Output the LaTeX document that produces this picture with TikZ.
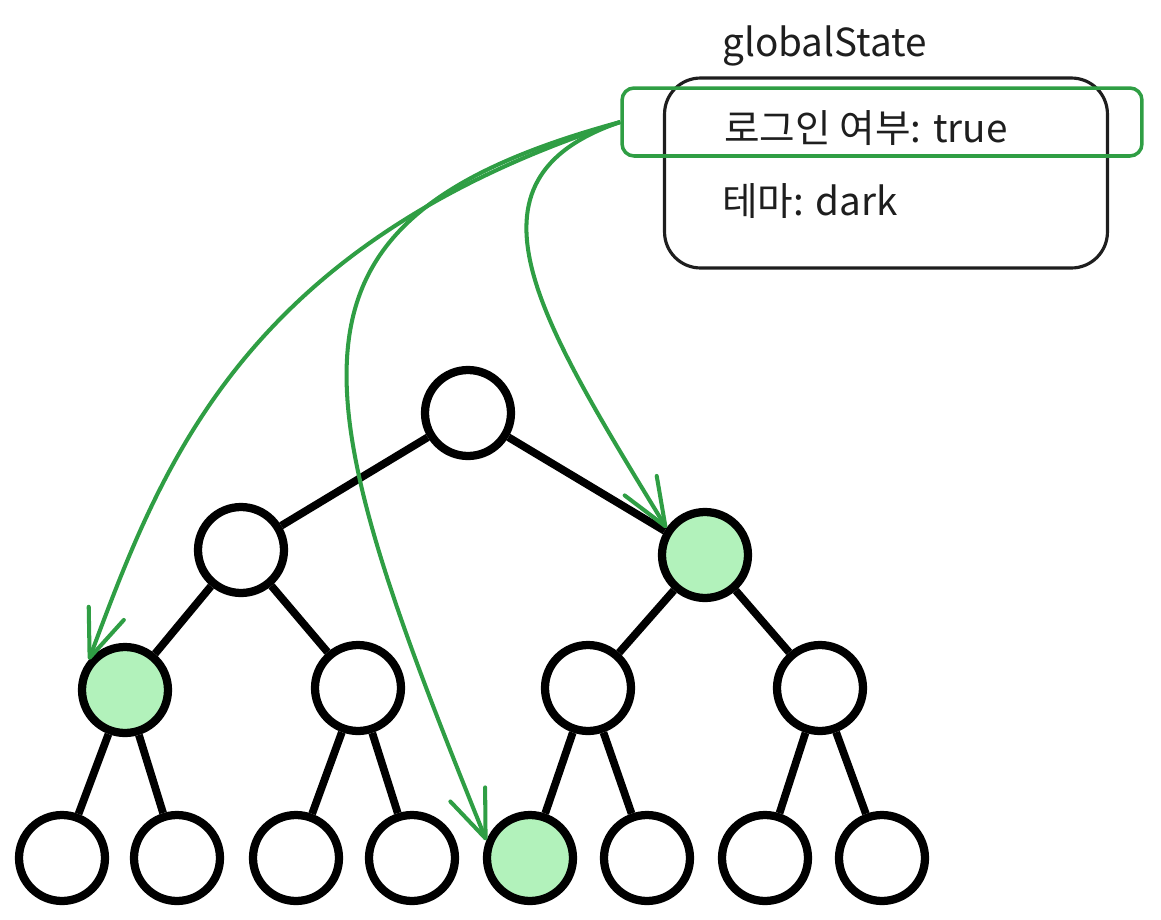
\documentclass[tikz,border=0pt]{standalone}
\usepackage{fontspec}
\usepackage{xcolor}
\usepackage{tikz}
\usetikzlibrary{arrows.meta}
\newfontfamily\kofont{Noto Sans CJK KR}
\definecolor{inkBlack}{HTML}{1E1E1E}
\definecolor{stateGreen}{HTML}{2F9E44}
\definecolor{readFill}{HTML}{B2F2BB}

\begin{document}
\begin{tikzpicture}[
  x=0.02cm, y=-0.02cm,
  font=\kofont\fontsize{22}{26}\selectfont,
  vtx/.style={circle, draw=black, fill=white, line width=0.165cm, minimum size=1.72cm, inner sep=0pt},
  reader/.style={vtx, fill=readFill},
  link/.style={line width=0.155cm, draw=black},
  statebox/.style={draw=inkBlack, rounded corners=0.72cm, line width=1.8pt, minimum width=8.86cm, minimum height=3.8cm},
  pick/.style={draw=stateGreen, rounded corners=0.24cm, line width=2pt, minimum width=10.4cm, minimum height=1.36cm},
  entry/.style={anchor=base west, text=inkBlack, inner sep=0pt},
  sub/.style={-{Straight Barb[length=0.95cm, width=0.75cm, round]}, line width=2.3pt, draw=stateGreen}
]
\useasboundingbox (0,0) rectangle (1161,920);

% ---------- GLOBAL STATE ----------
\node[entry] (title) at (722,56) {globalState};
\node[statebox] (store) at (886,173) {};
\node[pick] (login) at (882,122) {};
\node[entry] (loginTxt) at (724,142) {로그인 여부: true};
\node[entry] (themeTxt) at (722,215) {테마: dark};

% ---------- TREE ----------
\node[vtx] (root) at (468,413) {};
\node[vtx] (a) at (241,550) {};
\node[reader] (b) at (705,555) {};
\node[reader] (aa) at (125,690) {};
\node[vtx] (ab) at (358,688) {};
\node[vtx] (ba) at (588,688) {};
\node[vtx] (bb) at (820,688) {};
\node[vtx] (aaa) at (62,858) {};
\node[vtx] (aab) at (177,858) {};
\node[vtx] (aba) at (296,858) {};
\node[vtx] (abb) at (412,858) {};
\node[reader] (baa) at (530,858) {};
\node[vtx] (bab) at (647,858) {};
\node[vtx] (bba) at (765,858) {};
\node[vtx] (bbb) at (882,858) {};

\draw[link] (root) -- (a);
\draw[link] (root) -- (b);
\draw[link] (a) -- (aa);
\draw[link] (a) -- (ab);
\draw[link] (b) -- (ba);
\draw[link] (b) -- (bb);
\draw[link] (aa) -- (aaa);
\draw[link] (aa) -- (aab);
\draw[link] (ab) -- (aba);
\draw[link] (ab) -- (abb);
\draw[link] (ba) -- (baa);
\draw[link] (ba) -- (bab);
\draw[link] (bb) -- (bba);
\draw[link] (bb) -- (bbb);

% ---------- SUBSCRIBERS ----------
\draw[sub] (login.west) .. controls (240,245) and (160,470) .. (aa.140);
\draw[sub] (login.west) .. controls (260,220) and (300,380) .. (baa.158);
\draw[sub] (login.west) .. controls (450,180) and (540,320) .. (b.145);

\end{tikzpicture}
\end{document}
